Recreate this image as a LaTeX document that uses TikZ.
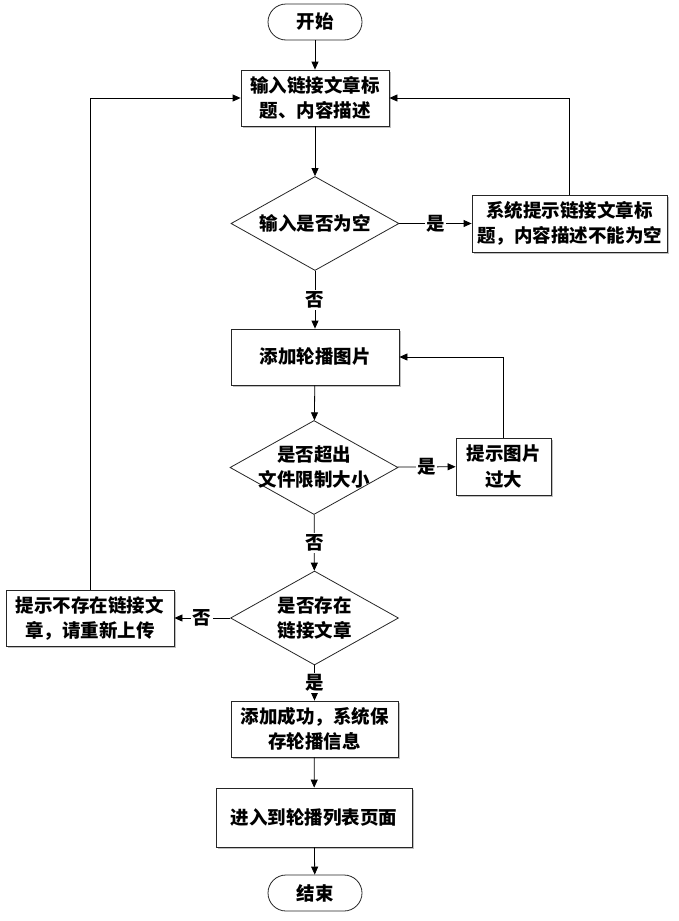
\documentclass[tikz,border=0pt]{standalone}
\usepackage{fontspec}
\setmainfont{Noto Sans CJK SC}
\usetikzlibrary{arrows.meta,shapes.geometric,shadows}
\begin{document}
\begin{tikzpicture}[x=1pt,y=-1pt,
  every node/.style={font=\fontsize{18.5}{25}\selectfont\bfseries},
  base/.style={draw=black!85, line width=0.8pt, fill=white, align=center, inner sep=0pt},
  procbox/.style={base, rectangle, drop shadow={shadow xshift=1.6pt, shadow yshift=-1.6pt, fill=black!25, opacity=1}},
  term/.style={base, rectangle, rounded corners=18pt, minimum width=94pt, minimum height=36pt},
  dia/.style={base, diamond, minimum width=168pt, minimum height=94pt, aspect=1.8},
  arr/.style={draw=black, line width=0.8pt, -{Triangle[length=8pt,width=7pt]}},
  lbl/.style={fill=white, inner sep=1.5pt}]
\useasboundingbox (0,0) rectangle (678,921);
\node[term] (start) at (315,22) {开始};
\node[procbox, minimum width=148pt, minimum height=56pt] (b1) at (315,98) {输入链接文章标\\题、内容描述};
\node[dia] (d1) at (315,223.5) {};
\node at (d1) {输入是否为空};
\node[procbox, minimum width=195pt, minimum height=57pt] (sys) at (569.5,223.5) {系统提示链接文章标\\题，内容描述不能为空};
\node[procbox, minimum width=168pt, minimum height=56pt] (b2) at (315,357) {添加轮播图片};
\node[dia] (d2) at (314,467.5) {};
\node[align=center] at (d2) {是否超出\\文件限制大小};
\node[procbox, minimum width=95pt, minimum height=57pt] (tip) at (503.5,466.5) {提示图片\\过大};
\node[dia] (d3) at (314.5,618) {};
\node[align=center] at (d3) {是否存在\\链接文章};
\node[procbox, minimum width=168pt, minimum height=56pt] (lb) at (90,618) {提示不存在链接文\\章，请重新上传};
\node[procbox, minimum width=167pt, minimum height=56pt] (b3) at (314.5,729) {添加成功，系统保\\存轮播信息};
\node[procbox, minimum width=196pt, minimum height=59pt] (b4) at (314,817.5) {进入到轮播列表页面};
\node[term] (end) at (315,893) {结束};

\draw[arr] (start) -- (b1);
\draw[arr] (b1) -- (d1);
\draw[arr] (d1) -- node[lbl]{是} (sys);
\draw[arr] (d1) -- node[lbl]{否} (b2);
\draw[arr] (sys.north) |- (b1.east);
\draw[arr] (b2) -- (d2);
\draw[arr] (d2) -- node[lbl]{是} (tip);
\draw[arr] (tip.north) |- (b2.east);
\draw[arr] (d2) -- node[lbl]{否} (d3);
\draw[arr] (d3) -- node[lbl]{否} (lb);
\draw[arr] (lb.north) |- (b1.west);
\draw[arr] (d3) -- node[lbl]{是} (b3);
\draw[arr] (b3) -- (b4);
\draw[arr] (b4) -- (end);
\end{tikzpicture}
\end{document}
